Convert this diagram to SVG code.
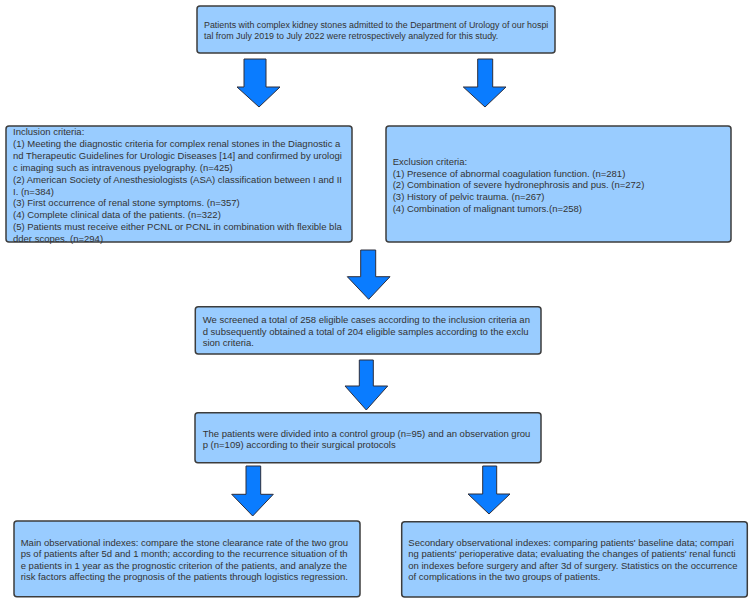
<svg xmlns="http://www.w3.org/2000/svg" width="753" height="603" viewBox="0 0 753 603">
<style>
.box{fill:#99ccff;stroke:#3c3c3c;stroke-width:1.5}
.t{font-family:"Liberation Sans",Arial,sans-serif;font-size:9.5px;fill:#333333}
.t2{font-family:"Liberation Sans",Arial,sans-serif;font-size:8.9px;fill:#333333}
.arr{fill:#0a7cff;stroke:#2e2e3a;stroke-width:1;stroke-linejoin:miter}
</style>
<rect width="753" height="603" fill="#ffffff"/>
<g id="connectors">
<polygon class="arr" points="244,59 266,59 266,87 280,87 259,107 237,87 244,87"/>
<polygon class="arr" points="477.7,59 492.7,59 492.7,87 506,87 485,107 463.3,87 477.7,87"/>
<polygon class="arr" points="360.7,250 375.7,250 375.7,276.7 390,276.7 368.7,299.3 347.3,276.7 360.7,276.7"/>
<polygon class="arr" points="359.3,360 373.3,360 373.3,386 387.7,386 366.3,410 345,386 359.3,386"/>
<polygon class="arr" points="246,466 260.7,466 260.7,494.3 273.3,494.3 252.7,516 231.7,494.3 246,494.3"/>
<polygon class="arr" points="482.7,466 496.7,466 496.7,494 510,494 489,514 468,494 482.7,494"/>
</g>
<g id="n_source">
<rect class="box" x="197" y="6" width="358" height="47" rx="3"/>
<text class="t2" x="204" y="28.3">Patients with complex kidney stones admitted to the Department of Urology of our hospi</text>
<text class="t2" x="204" y="39.3">tal from July 2019 to July 2022 were retrospectively analyzed for this study.</text>
</g>
<g id="n_inclusion">
<rect class="box" x="6" y="126" width="346" height="116" rx="3"/>
<text class="t" x="13" y="135">Inclusion criteria:</text>
<text class="t" x="13" y="146.9">(1) Meeting the diagnostic criteria for complex renal stones in the Diagnostic a</text>
<text class="t" x="13" y="158.8">nd Therapeutic Guidelines for Urologic Diseases [14] and confirmed by urologi</text>
<text class="t" x="13" y="170.7">c imaging such as intravenous pyelography. (n=425)</text>
<text class="t" x="13" y="182.6">(2) American Society of Anesthesiologists (ASA) classification between I and II</text>
<text class="t" x="13" y="194.5">I. (n=384)</text>
<text class="t" x="13" y="206.4">(3) First occurrence of renal stone symptoms. (n=357)</text>
<text class="t" x="13" y="218.3">(4) Complete clinical data of the patients. (n=322)</text>
<text class="t" x="13" y="230.2">(5) Patients must receive either PCNL or PCNL in combination with flexible bla</text>
<text class="t" x="13" y="242.1">dder scopes. (n=294)</text>
</g>
<g id="n_exclusion">
<rect class="box" x="386" y="126" width="345" height="116" rx="3"/>
<text class="t" x="392.7" y="164.6">Exclusion criteria:</text>
<text class="t" x="392.7" y="176.5">(1) Presence of abnormal coagulation function. (n=281)</text>
<text class="t" x="392.7" y="188.4">(2) Combination of severe hydronephrosis and pus. (n=272)</text>
<text class="t" x="392.7" y="200.3">(3) History of pelvic trauma. (n=267)</text>
<text class="t" x="392.7" y="212.2">(4) Combination of malignant tumors.(n=258)</text>
</g>
<g id="n_screened">
<rect class="box" x="195.3" y="306.7" width="345.7" height="47.3" rx="3"/>
<text class="t" x="202.7" y="323.3">We screened a total of 258 eligible cases according to the inclusion criteria an</text>
<text class="t" x="202.7" y="334.6">d subsequently obtained a total of 204 eligible samples according to the exclu</text>
<text class="t" x="202.7" y="346">sion criteria.</text>
</g>
<g id="n_groups">
<rect class="box" x="195" y="412.7" width="346" height="50" rx="3"/>
<text class="t" x="202.7" y="436.6">The patients were divided into a control group (n=95) and an observation grou</text>
<text class="t" x="202.7" y="447.6">p (n=109) according to their surgical protocols</text>
</g>
<g id="n_main">
<rect class="box" x="14" y="521" width="346" height="75.7" rx="3"/>
<text class="t" x="20.7" y="546">Main observational indexes: compare the stone clearance rate of the two grou</text>
<text class="t" x="20.7" y="557.3">ps of patients after 5d and 1 month; according to the recurrence situation of th</text>
<text class="t" x="20.7" y="568.6">e patients in 1 year as the prognostic criterion of the patients, and analyze the</text>
<text class="t" x="20.7" y="580">risk factors affecting the prognosis of the patients through logistics regression.</text>
</g>
<g id="n_secondary">
<rect class="box" x="401.7" y="521.7" width="345.6" height="75.3" rx="3"/>
<text class="t" x="408.3" y="546">Secondary observational indexes: comparing patients' baseline data; compari</text>
<text class="t" x="408.3" y="557.3">ng patients' perioperative data; evaluating the changes of patients' renal functi</text>
<text class="t" x="408.3" y="568.6">on indexes before surgery and after 3d of surgery. Statistics on the occurrence</text>
<text class="t" x="408.3" y="580">of complications in the two groups of patients.</text>
</g>
</svg>
